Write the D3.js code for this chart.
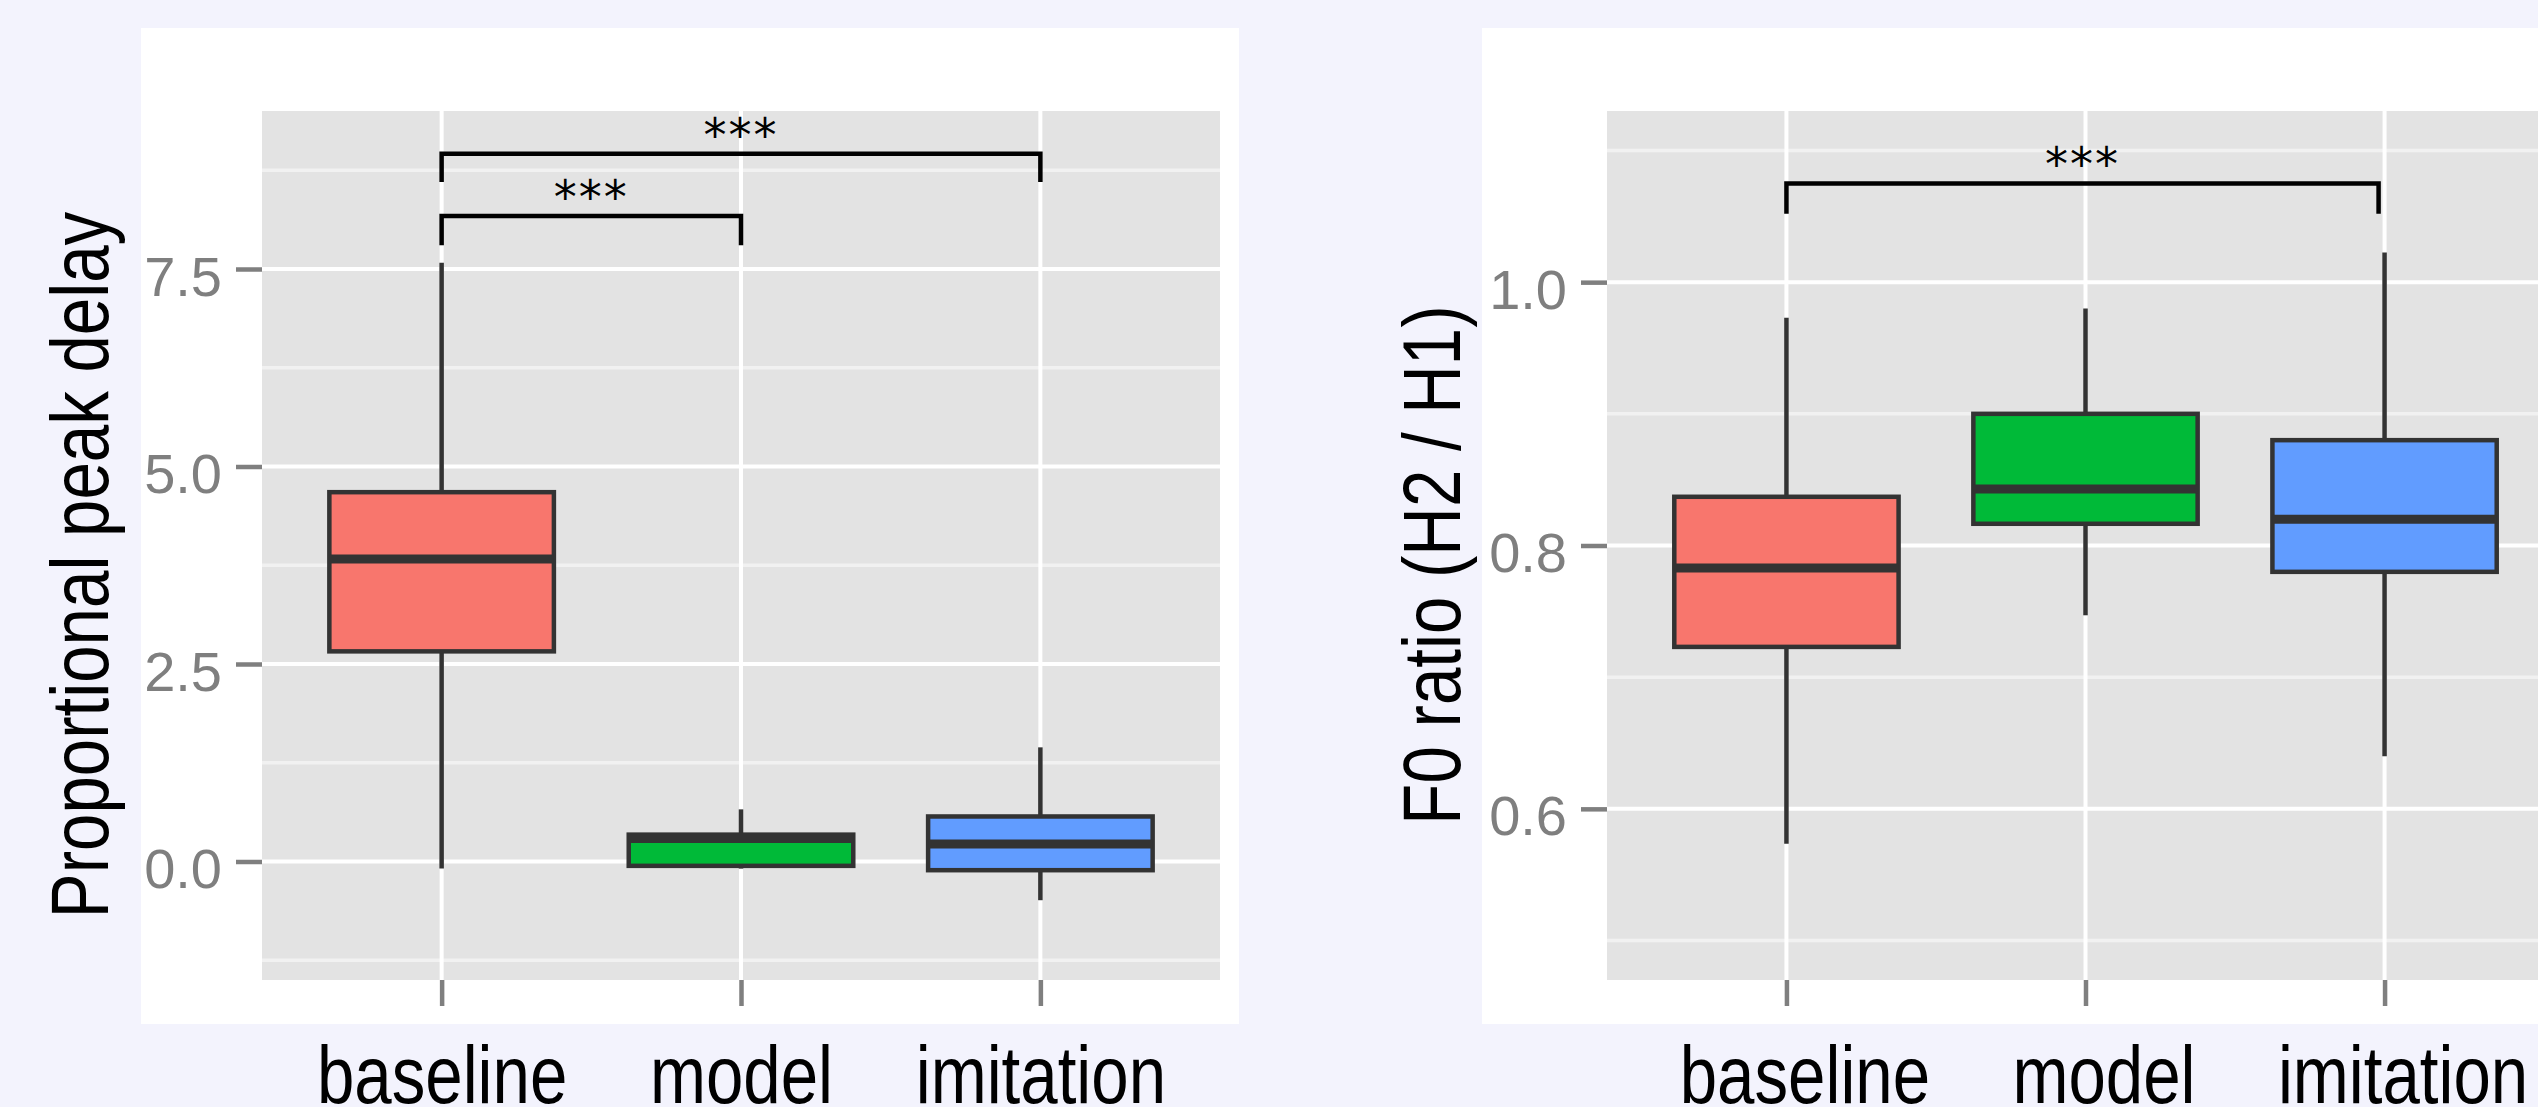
<!DOCTYPE html>
<html>
<head>
<meta charset="utf-8">
<script src="https://cdn.jsdelivr.net/npm/d3@7"></script>
<style>
  html, body { margin: 0; padding: 0; background: #f3f3fd; }
  svg { display: block; }
</style>
</head>
<body>
<script>
// ---------------- DATA ----------------
const categories = ["baseline", "model", "imitation"];
const fillColors = ["#F8766D", "#00BA38", "#619CFF"];

// Panel 1: Proportional peak delay
const delayTitle = "Proportional peak delay";
const delayWhiskerLow  = [-0.09, -0.09, -0.49];
const delayQ1          = [2.66, -0.055, -0.11];
const delayMedian      = [3.83, 0.29, 0.22];
const delayQ3          = [4.675, 0.34, 0.57];
const delayWhiskerHigh = [7.58, 0.66, 1.445];
const delayDomain      = [-1.5, 9.5];
const delayTicks       = [0, 2.5, 5, 7.5];
const delayTickLabels  = ["0.0", "2.5", "5.0", "7.5"];
const delayMinor       = [-1.25, 1.25, 3.75, 6.25, 8.75];
const delayBrackets = [
  { from: 0, to: 1, y: 8.17, tip: 7.80, label: "***" },
  { from: 0, to: 2, y: 8.96, tip: 8.60, label: "***" }
];

// Panel 2: F0 ratio
const f0Title = "F0 ratio (H2 / H1)";
const f0WhiskerLow  = [0.5735, 0.747, 0.640];
const f0Q1          = [0.723, 0.8165, 0.780];
const f0Median      = [0.783, 0.843, 0.820];
const f0Q3          = [0.837, 0.900, 0.880];
const f0WhiskerHigh = [0.973, 0.980, 1.0226];
const f0Domain      = [0.47, 1.13];
const f0Ticks       = [0.6, 0.8, 1.0];
const f0TickLabels  = ["0.6", "0.8", "1.0"];
const f0Minor       = [0.5, 0.7, 0.9, 1.1];
const f0Brackets = [
  { from: 0, to: 1.98, y: 1.075, tip: 1.052, label: "***" }
];

// ---------------- LAYOUT ----------------
const W = 2538, H = 1107;
const narrow = 0.82;   // emulate a condensed face
const panels = [
  { title: delayTitle, lo: delayWhiskerLow, q1: delayQ1, med: delayMedian, q3: delayQ3, hi: delayWhiskerHigh,
    domain: delayDomain, ticks: delayTicks, tickLabels: delayTickLabels, minor: delayMinor, brackets: delayBrackets,
    px: 141, py: 28, pw: 1098, ph: 996, gx: 262, gy: 111, gw: 958, gh: 869, titleX: 108, labelDx: 0 },
  { title: f0Title, lo: f0WhiskerLow, q1: f0Q1, med: f0Median, q3: f0Q3, hi: f0WhiskerHigh,
    domain: f0Domain, ticks: f0Ticks, tickLabels: f0TickLabels, minor: f0Minor, brackets: f0Brackets,
    px: 1482, py: 28, pw: 1098, ph: 996, gx: 1607, gy: 111, gw: 957, gh: 869, titleX: 1460, labelDx: 18 }
];

const svg = d3.select("body").append("svg")
  .attr("width", W).attr("height", H)
  .attr("viewBox", `0 0 ${W} ${H}`);

svg.append("rect").attr("x", 0).attr("y", 0).attr("width", W).attr("height", H).attr("fill", "#f3f3fd");

const boxWidth = 0.75;
const darkLine = "#333333";

panels.forEach(p => {
  const g = svg.append("g");
  g.append("rect").attr("x", p.px).attr("y", p.py).attr("width", p.pw).attr("height", p.ph).attr("fill", "#ffffff");
  g.append("rect").attr("x", p.gx).attr("y", p.gy).attr("width", p.gw).attr("height", p.gh).attr("fill", "#e3e3e3");

  const x = d3.scaleLinear().domain([-0.6, categories.length - 1 + 0.6]).range([p.gx, p.gx + p.gw]);
  const y = d3.scaleLinear().domain(p.domain).range([p.gy + p.gh, p.gy]);

  g.selectAll(null).data(p.minor).enter().append("line")
    .attr("x1", p.gx).attr("x2", p.gx + p.gw)
    .attr("y1", d => y(d)).attr("y2", d => y(d))
    .attr("stroke", "#f1f1f1").attr("stroke-width", 3.5);
  g.selectAll(null).data(p.ticks).enter().append("line")
    .attr("x1", p.gx).attr("x2", p.gx + p.gw)
    .attr("y1", d => y(d)).attr("y2", d => y(d))
    .attr("stroke", "#ffffff").attr("stroke-width", 4);
  g.selectAll(null).data(categories).enter().append("line")
    .attr("x1", (d, i) => x(i)).attr("x2", (d, i) => x(i))
    .attr("y1", p.gy).attr("y2", p.gy + p.gh)
    .attr("stroke", "#ffffff").attr("stroke-width", 4);

  // y axis
  const yAxis = d3.axisLeft(y).tickValues(p.ticks)
    .tickFormat((d, i) => p.tickLabels[i]).tickSize(26).tickPadding(14);
  const ya = g.append("g").attr("transform", `translate(${p.gx},0)`).call(yAxis);
  ya.select(".domain").remove();
  ya.selectAll(".tick line").attr("stroke", "#7f7f7f").attr("stroke-width", 4.5);
  ya.selectAll(".tick text")
    .attr("fill", "#7f7f7f")
    .attr("font-family", "'Liberation Sans', Arial, sans-serif")
    .attr("font-size", 56)
    .attr("dy", null)
    .attr("x", -40)
    .attr("y", 26);

  // x axis
  const xAxis = d3.axisBottom(x).tickValues(categories.map((c, i) => i))
    .tickFormat(i => categories[i]).tickSize(26).tickPadding(0);
  const xa = g.append("g").attr("transform", `translate(0,${p.gy + p.gh})`).call(xAxis);
  xa.select(".domain").remove();
  xa.selectAll(".tick line").attr("stroke", "#7f7f7f").attr("stroke-width", 4.5);
  xa.selectAll(".tick text")
    .attr("fill", "#000000")
    .attr("font-family", "'Liberation Sans Narrow', 'Liberation Sans', Arial, sans-serif")
    .attr("font-size", 82)
    .attr("dy", null)
    .attr("x", 0)
    .attr("y", 0)
    .attr("transform", `translate(${p.labelDx},${1103 - (p.gy + p.gh)}) scale(${narrow},1)`);

  // y title
  g.append("text")
    .attr("transform", `translate(${p.titleX},565) rotate(-90) scale(${narrow},1)`)
    .attr("text-anchor", "middle")
    .attr("font-family", "'Liberation Sans Narrow', 'Liberation Sans', Arial, sans-serif")
    .attr("font-size", 82)
    .attr("fill", "#000000")
    .text(p.title);

  // boxplots
  const bw = x(boxWidth) - x(0);
  const boxes = categories.map((c, i) => ({ i, lo: p.lo[i], q1: p.q1[i], med: p.med[i], q3: p.q3[i], hi: p.hi[i] }));
  const bg = g.selectAll(null).data(boxes).enter().append("g");
  bg.append("line")
    .attr("x1", d => x(d.i)).attr("x2", d => x(d.i))
    .attr("y1", d => y(d.hi)).attr("y2", d => y(d.q3))
    .attr("stroke", darkLine).attr("stroke-width", 4.5);
  bg.append("line")
    .attr("x1", d => x(d.i)).attr("x2", d => x(d.i))
    .attr("y1", d => y(d.q1)).attr("y2", d => y(d.lo))
    .attr("stroke", darkLine).attr("stroke-width", 4.5);
  bg.append("rect")
    .attr("x", d => x(d.i) - bw / 2).attr("width", bw)
    .attr("y", d => y(d.q3)).attr("height", d => y(d.q1) - y(d.q3))
    .attr("fill", d => fillColors[d.i])
    .attr("stroke", darkLine).attr("stroke-width", 4.5);
  bg.append("line")
    .attr("x1", d => x(d.i) - bw / 2).attr("x2", d => x(d.i) + bw / 2)
    .attr("y1", d => y(d.med)).attr("y2", d => y(d.med))
    .attr("stroke", darkLine).attr("stroke-width", 9);

  // significance brackets
  const br = g.selectAll(null).data(p.brackets).enter().append("g");
  br.append("path")
    .attr("d", d => `M${x(d.from)},${y(d.tip)} L${x(d.from)},${y(d.y)} L${x(d.to)},${y(d.y)} L${x(d.to)},${y(d.tip)}`)
    .attr("fill", "none").attr("stroke", "#000000").attr("stroke-width", 4.5);
  br.append("text")
    .attr("x", d => (x(d.from) + x(d.to)) / 2)
    .attr("y", d => y(d.y) - 3)
    .attr("text-anchor", "middle")
    .attr("font-family", "'DejaVu Sans', sans-serif")
    .attr("font-size", 46)
    .attr("letter-spacing", 2)
    .attr("fill", "#000000")
    .text(d => d.label);
});
</script>
</body>
</html>
